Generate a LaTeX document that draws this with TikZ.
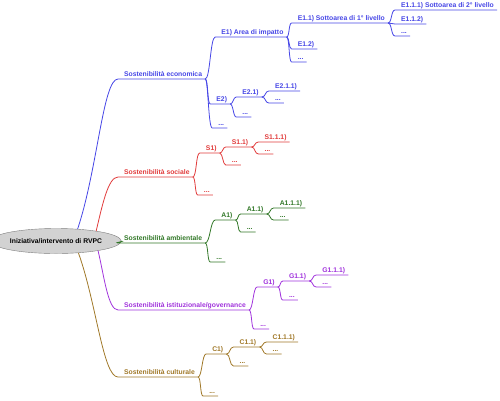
\documentclass[tikz,border=0pt]{standalone}
\usepackage{fontspec}
\setmainfont{Liberation Sans}
\usetikzlibrary{shapes.geometric}
\definecolor{ecoblue}{RGB}{70,70,230}
\definecolor{socred}{RGB}{225,60,60}
\definecolor{ambgreen}{RGB}{50,120,40}
\definecolor{istpurple}{RGB}{160,50,220}
\definecolor{culbrown}{RGB}{160,120,40}
\begin{document}
\begin{tikzpicture}[x=1pt, y=-1pt,
    topic/.style={anchor=south west, inner xsep=3pt, inner ysep=1.2pt, text depth=1.3pt,
      font=\fontsize{6.8}{8}\selectfont\bfseries, execute at begin node={\hspace*{3pt}}},
    link/.style={line width=0.8pt}]
  \useasboundingbox (0,0) rectangle (500,400);

  % centre
  \node[ellipse, draw=gray, fill=gray!35, minimum width=108pt, minimum height=25pt, inner sep=0pt,
    font=\fontsize{6.8}{8}\selectfont\bfseries] (root) at (56,241) {Iniziativa/intervento di RVPC};

  % first level
  \node[topic, ecoblue] (eco) at (118,79) {Sostenibilità economica};
  \node[topic, socred] (soc) at (118,177) {Sostenibilità sociale};
  \node[topic, ambgreen] (amb) at (118,243) {Sostenibilità ambientale};
  \node[topic, istpurple] (ist) at (118,310) {Sostenibilità istituzionale/governance};
  \node[topic, culbrown] (cul) at (118,377) {Sostenibilità culturale};

  \draw[link, ecoblue] (root.29) .. controls +(20,-60) and +(-15,0) .. (eco.south west) -- (eco.south east);
  \draw[link, socred] (root.14) .. controls +(6,-25) and +(-10,0) .. (soc.south west) -- (soc.south east);
  \draw[link, ambgreen] (root.east) .. controls +(5,0) and +(-5,0) .. (amb.south west) -- (amb.south east);
  \draw[link, istpurple] (root.-13) .. controls +(6,25) and +(-10,0) .. (ist.south west) -- (ist.south east);
  \draw[link, culbrown] (root.-28) .. controls +(18,50) and +(-15,0) .. (cul.south west) -- (cul.south east);

  % economica
  \node[topic, ecoblue] (e1) at ([shift={(10,-42)}]eco.south east) {E1) Area di impatto};
  \node[topic, ecoblue] (e2) at ([shift={(5,25)}]eco.south east) {E2)};
  \node[topic, ecoblue] (e3) at ([shift={(7,49)}]eco.south east) {...};
  \node[topic, ecoblue] (e11) at ([shift={(5,-14)}]e1.south east) {E1.1) Sottoarea di 1° livello};
  \node[topic, ecoblue] (e12) at ([shift={(5,12)}]e1.south east) {E1.2)};
  \node[topic, ecoblue] (e13) at ([shift={(5,25)}]e1.south east) {...};
  \node[topic, ecoblue] (e111) at ([shift={(7,-13)}]e11.south east) {E1.1.1) Sottoarea di 2° livello};
  \node[topic, ecoblue] (e112) at ([shift={(7,1)}]e11.south east) {E1.1.2)};
  \node[topic, ecoblue] (e113) at ([shift={(7,13)}]e11.south east) {...};
  \node[topic, ecoblue] (e21) at ([shift={(6,-7)}]e2.south east) {E2.1)};
  \node[topic, ecoblue] (e22) at ([shift={(6,13)}]e2.south east) {...};
  \node[topic, ecoblue] (e211) at ([shift={(7,-6)}]e21.south east) {E2.1.1)};
  \node[topic, ecoblue] (e212) at ([shift={(7,6)}]e21.south east) {...};

  \draw[link, ecoblue] (eco.south east) .. controls +(5,0) and +(-5,0) .. (e1.south west) -- (e1.south east);
  \draw[link, ecoblue] (eco.south east) .. controls +(3,0) and +(-3,0) .. (e2.south west) -- (e2.south east);
  \draw[link, ecoblue] (eco.south east) .. controls +(3,0) and +(-4,0) .. (e3.south west) -- (e3.south east);
  \draw[link, ecoblue] (e1.south east) .. controls +(3,0) and +(-3,0) .. (e11.south west) -- (e11.south east);
  \draw[link, ecoblue] (e1.south east) .. controls +(3,0) and +(-3,0) .. (e12.south west) -- (e12.south east);
  \draw[link, ecoblue] (e1.south east) .. controls +(3,0) and +(-3,0) .. (e13.south west) -- (e13.south east);
  \draw[link, ecoblue] (e11.south east) .. controls +(4,0) and +(-4,0) .. (e111.south west) -- (e111.south east);
  \draw[link, ecoblue] (e11.south east) .. controls +(4,0) and +(-4,0) .. (e112.south west) -- (e112.south east);
  \draw[link, ecoblue] (e11.south east) .. controls +(4,0) and +(-4,0) .. (e113.south west) -- (e113.south east);
  \draw[link, ecoblue] (e2.south east) .. controls +(3,0) and +(-3,0) .. (e21.south west) -- (e21.south east);
  \draw[link, ecoblue] (e2.south east) .. controls +(3,0) and +(-3,0) .. (e22.south west) -- (e22.south east);
  \draw[link, ecoblue] (e21.south east) .. controls +(4,0) and +(-4,0) .. (e211.south west) -- (e211.south east);
  \draw[link, ecoblue] (e21.south east) .. controls +(4,0) and +(-4,0) .. (e212.south west) -- (e212.south east);

  % sociale
  \node[topic, socred] (s1) at ([shift={(7,-24)}]soc.south east) {S1)};
  \node[topic, socred] (s2) at ([shift={(5,18)}]soc.south east) {...};
  \node[topic, socred] (s11) at ([shift={(6,-6)}]s1.south east) {S1.1)};
  \node[topic, socred] (s12) at ([shift={(6,12)}]s1.south east) {...};
  \node[topic, socred] (s111) at ([shift={(7,-5)}]s11.south east) {S1.1.1)};
  \node[topic, socred] (s112) at ([shift={(7,7)}]s11.south east) {...};

  \draw[link, socred] (soc.south east) .. controls +(4,0) and +(-4,0) .. (s1.south west) -- (s1.south east);
  \draw[link, socred] (soc.south east) .. controls +(3,0) and +(-3,0) .. (s2.south west) -- (s2.south east);
  \draw[link, socred] (s1.south east) .. controls +(3,0) and +(-3,0) .. (s11.south west) -- (s11.south east);
  \draw[link, socred] (s1.south east) .. controls +(3,0) and +(-3,0) .. (s12.south west) -- (s12.south east);
  \draw[link, socred] (s11.south east) .. controls +(4,0) and +(-4,0) .. (s111.south west) -- (s111.south east);
  \draw[link, socred] (s11.south east) .. controls +(4,0) and +(-4,0) .. (s112.south west) -- (s112.south east);

  % ambientale
  \node[topic, ambgreen] (a1) at ([shift={(10,-23)}]amb.south east) {A1)};
  \node[topic, ambgreen] (a2) at ([shift={(5,19)}]amb.south east) {...};
  \node[topic, ambgreen] (a11) at ([shift={(5,-6)}]a1.south east) {A1.1)};
  \node[topic, ambgreen] (a12) at ([shift={(5,12)}]a1.south east) {...};
  \node[topic, ambgreen] (a111) at ([shift={(7,-6)}]a11.south east) {A1.1.1)};
  \node[topic, ambgreen] (a112) at ([shift={(7,6)}]a11.south east) {...};

  \draw[link, ambgreen] (amb.south east) .. controls +(5,0) and +(-5,0) .. (a1.south west) -- (a1.south east);
  \draw[link, ambgreen] (amb.south east) .. controls +(3,0) and +(-3,0) .. (a2.south west) -- (a2.south east);
  \draw[link, ambgreen] (a1.south east) .. controls +(3,0) and +(-3,0) .. (a11.south west) -- (a11.south east);
  \draw[link, ambgreen] (a1.south east) .. controls +(3,0) and +(-3,0) .. (a12.south west) -- (a12.south east);
  \draw[link, ambgreen] (a11.south east) .. controls +(4,0) and +(-4,0) .. (a111.south west) -- (a111.south east);
  \draw[link, ambgreen] (a11.south east) .. controls +(4,0) and +(-4,0) .. (a112.south west) -- (a112.south east);

  % istituzionale
  \node[topic, istpurple] (g1) at ([shift={(8,-23)}]ist.south east) {G1)};
  \node[topic, istpurple] (g2) at ([shift={(5,19)}]ist.south east) {...};
  \node[topic, istpurple] (g11) at ([shift={(5,-6)}]g1.south east) {G1.1)};
  \node[topic, istpurple] (g12) at ([shift={(5,13)}]g1.south east) {...};
  \node[topic, istpurple] (g111) at ([shift={(7,-6)}]g11.south east) {G1.1.1)};
  \node[topic, istpurple] (g112) at ([shift={(7,6)}]g11.south east) {...};

  \draw[link, istpurple] (ist.south east) .. controls +(4,0) and +(-4,0) .. (g1.south west) -- (g1.south east);
  \draw[link, istpurple] (ist.south east) .. controls +(3,0) and +(-3,0) .. (g2.south west) -- (g2.south east);
  \draw[link, istpurple] (g1.south east) .. controls +(3,0) and +(-3,0) .. (g11.south west) -- (g11.south east);
  \draw[link, istpurple] (g1.south east) .. controls +(3,0) and +(-3,0) .. (g12.south west) -- (g12.south east);
  \draw[link, istpurple] (g11.south east) .. controls +(4,0) and +(-4,0) .. (g111.south west) -- (g111.south east);
  \draw[link, istpurple] (g11.south east) .. controls +(4,0) and +(-4,0) .. (g112.south west) -- (g112.south east);

  % culturale
  \node[topic, culbrown] (c1) at ([shift={(8,-23)}]cul.south east) {C1)};
  \node[topic, culbrown] (c2) at ([shift={(5,19)}]cul.south east) {...};
  \node[topic, culbrown] (c11) at ([shift={(7,-7)}]c1.south east) {C1.1)};
  \node[topic, culbrown] (c12) at ([shift={(7,12)}]c1.south east) {...};
  \node[topic, culbrown] (c111) at ([shift={(7,-5)}]c11.south east) {C1.1.1)};
  \node[topic, culbrown] (c112) at ([shift={(7,7)}]c11.south east) {...};

  \draw[link, culbrown] (cul.south east) .. controls +(4,0) and +(-4,0) .. (c1.south west) -- (c1.south east);
  \draw[link, culbrown] (cul.south east) .. controls +(3,0) and +(-3,0) .. (c2.south west) -- (c2.south east);
  \draw[link, culbrown] (c1.south east) .. controls +(4,0) and +(-4,0) .. (c11.south west) -- (c11.south east);
  \draw[link, culbrown] (c1.south east) .. controls +(4,0) and +(-4,0) .. (c12.south west) -- (c12.south east);
  \draw[link, culbrown] (c11.south east) .. controls +(4,0) and +(-4,0) .. (c111.south west) -- (c111.south east);
  \draw[link, culbrown] (c11.south east) .. controls +(4,0) and +(-4,0) .. (c112.south west) -- (c112.south east);
\end{tikzpicture}
\end{document}
